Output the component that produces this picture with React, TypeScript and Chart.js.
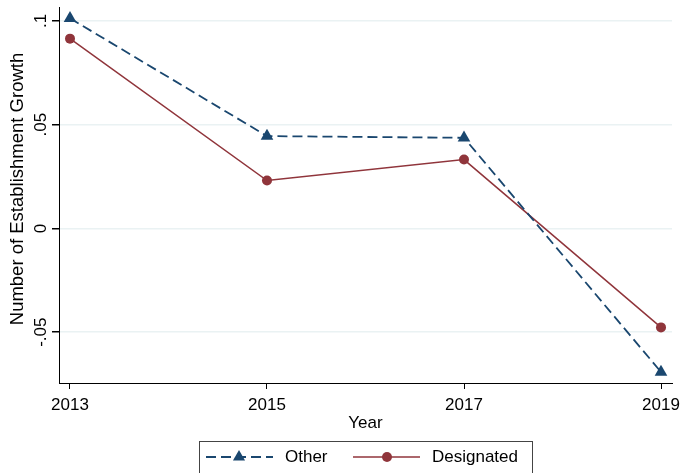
import React, { useEffect, useRef } from "react";
import { Chart, registerables } from "chart.js";

Chart.register(...registerables);

const years = [2013, 2015, 2017, 2019];
const otherValues = [0.1013, 0.0445, 0.0437, -0.0692];
const designatedValues = [0.0915, 0.0231, 0.0332, -0.0477];
const yTicks = [-0.05, 0, 0.05, 0.1];
const yTickLabels = ["-.05", "0", ".05", ".1"];
const xTicks = [2013, 2015, 2017, 2019];
const seriesNames = ["Other", "Designated"];
const yTitle = "Number of Establishment Growth";
const xTitle = "Year";

const NAVY = "#1a476f";
const MAROON = "#90353b";
const FONT = "Liberation Sans, Arial, sans-serif";

const decorPlugin = {
  id: "decor",
  afterDraw(chart: any) {
    const ctx = chart.ctx;
    const area = chart.chartArea;
    ctx.save();
    ctx.fillStyle = "#000";
    ctx.textAlign = "center";
    ctx.textBaseline = "middle";
    // y title
    ctx.font = `18.5px ${FONT}`;
    ctx.save();
    ctx.translate(18, 189);
    ctx.rotate(-Math.PI / 2);
    ctx.fillText(yTitle, 0, 0);
    ctx.restore();
    // x title
    ctx.font = `17px ${FONT}`;
    ctx.fillText(xTitle, (area.left + area.right) / 2, 423);

    // legend box
    ctx.strokeStyle = "#444";
    ctx.lineWidth = 1;
    ctx.strokeRect(199.5, 441.5, 333, 60);
    const ly = 457;
    // Other sample
    ctx.strokeStyle = NAVY;
    ctx.lineWidth = 1.8;
    ctx.setLineDash([10, 5]);
    ctx.beginPath();
    ctx.moveTo(206, ly);
    ctx.lineTo(273, ly);
    ctx.stroke();
    ctx.setLineDash([]);
    ctx.fillStyle = NAVY;
    const r = 7;
    const cx = 239;
    ctx.beginPath();
    ctx.moveTo(cx, ly - r);
    ctx.lineTo(cx + r * Math.sin((2 * Math.PI) / 3), ly - r * Math.cos((2 * Math.PI) / 3));
    ctx.lineTo(cx + r * Math.sin((4 * Math.PI) / 3), ly - r * Math.cos((4 * Math.PI) / 3));
    ctx.closePath();
    ctx.fill();
    // Designated sample
    ctx.strokeStyle = MAROON;
    ctx.lineWidth = 1.5;
    ctx.beginPath();
    ctx.moveTo(353, ly);
    ctx.lineTo(420, ly);
    ctx.stroke();
    ctx.fillStyle = MAROON;
    ctx.beginPath();
    ctx.arc(387, ly, 5, 0, Math.PI * 2);
    ctx.fill();
    // texts
    ctx.fillStyle = "#000";
    ctx.textAlign = "left";
    ctx.fillText(seriesNames[0], 285, ly);
    ctx.fillText(seriesNames[1], 432, ly);
    ctx.restore();
  },
};

export default function App() {
  const ref = useRef<HTMLCanvasElement>(null);
  useEffect(() => {
    if (!ref.current) return;
    const xPad = 11 / 98.5;
    const chart = new Chart(ref.current, {
      type: "line",
      data: {
        datasets: [
          {
            label: seriesNames[0],
            data: years.map((y, i) => ({ x: y, y: otherValues[i] })),
            borderColor: NAVY,
            backgroundColor: NAVY,
            borderWidth: 1.8,
            borderDash: [10, 5],
            pointStyle: "triangle",
            pointRadius: 7.3,
            pointBorderWidth: 0,
            tension: 0,
          },
          {
            label: seriesNames[1],
            data: years.map((y, i) => ({ x: y, y: designatedValues[i] })),
            borderColor: MAROON,
            backgroundColor: MAROON,
            borderWidth: 1.5,
            pointStyle: "circle",
            pointRadius: 5,
            pointBorderWidth: 0,
            tension: 0,
          },
        ],
      },
      options: {
        animation: false,
        responsive: false,
        maintainAspectRatio: false,
        layout: { padding: { top: 7, right: 24, left: 0, bottom: 0 } },
        plugins: { legend: { display: false }, tooltip: { enabled: false } },
        scales: {
          x: {
            type: "linear",
            min: 2013 - xPad,
            max: 2019 + xPad,
            afterBuildTicks: (s: any) => {
              s.ticks = xTicks.map((v) => ({ value: v }));
            },
            afterFit: (s: any) => {
              s.height = 90;
            },
            ticks: {
              color: "#000",
              font: { family: FONT, size: 17 },
              padding: 6,
              maxRotation: 0,
              callback: (v: any) => String(v),
            },
            grid: { drawOnChartArea: false, drawTicks: true, tickLength: 6, tickColor: "#000" },
            border: { color: "#000", width: 1 },
          },
          y: {
            type: "linear",
            min: -0.0745,
            max: 0.1066,
            afterBuildTicks: (s: any) => {
              s.ticks = yTicks.map((v) => ({ value: v }));
            },
            afterFit: (s: any) => {
              s.width = 59;
            },
            ticks: {
              color: "#000",
              font: { family: FONT, size: 17 },
              padding: -4,
              crossAlign: "center",
              minRotation: 90,
              maxRotation: 90,
              callback: (v: any) => {
                const idx = yTicks.findIndex((t) => Math.abs(t - v) < 1e-9);
                return idx >= 0 ? yTickLabels[idx] : "";
              },
            },
            grid: { color: "#eaf2f3", lineWidth: 1.5, drawTicks: true, tickLength: 7, tickColor: "#000" },
            border: { color: "#000", width: 1 },
          },
        },
      },
      plugins: [decorPlugin],
    } as any);
    return () => chart.destroy();
  }, []);
  return (
    <div style={{ position: "absolute", left: 0, top: 0, width: 696, height: 473, background: "#fff" }}>
      <canvas ref={ref} width={696} height={473} style={{ width: 696, height: 473 }} />
    </div>
  );
}
